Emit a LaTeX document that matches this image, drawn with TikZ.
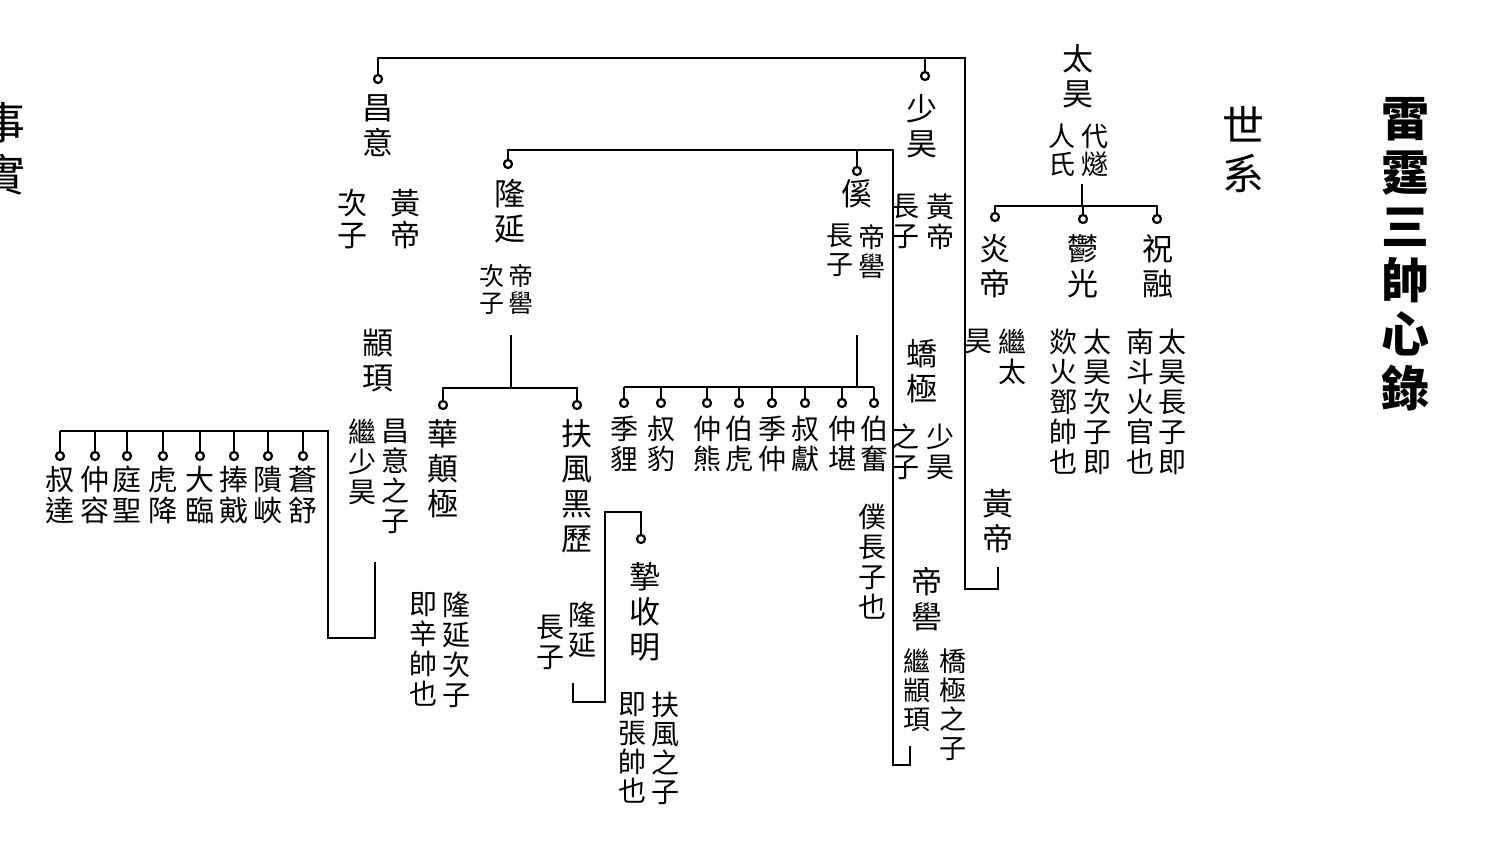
\documentclass[tikz,border=0pt]{standalone}
\usepackage{fontspec}
\setmainfont{Noto Sans CJK TC}
\begin{document}
\begin{tikzpicture}[x=1pt,y=-1pt,
  nm/.style={font=\fontsize{31}{35}\selectfont, align=center, inner sep=0pt, anchor=north},
  nt/.style={font=\fontsize{28}{30}\selectfont, align=center, inner sep=0pt, anchor=north},
  sm/.style={font=\fontsize{25}{27}\selectfont, align=center, inner sep=0pt, anchor=north},
  ttl/.style={font=\bfseries\fontsize{48}{54}\selectfont, align=center, inner sep=0pt, anchor=north},
  hd/.style={font=\fontsize{42}{48}\selectfont, align=center, inner sep=0pt, anchor=north},
  ln/.style={line width=2.6pt, line join=miter},
  tl/.style={line width=1.3pt},
  term/.style={circle, draw, line width=2.2pt, fill=white, inner sep=0pt, minimum size=8pt},
]
\useasboundingbox (0,0) rectangle (1500,851);
\fill[white] (0,0) rectangle (1500,851);

% headings
\node[ttl] (title) at (1405,97) {雷\\霆\\三\\帥\\心\\錄};
\node[hd] (shixi) at (1243,106) {世\\系};
\node[hd, font=\fontsize{44}{52}\selectfont] (shishi) at (4,102) {事\\實};

% Tai Hao branch
\node[nm] (taihao) at (1078,44) {太\\昊};
\node[nt, font=\fontsize{27}{28}\selectfont] (taihaoR) at (1095,124) {代\\燧};
\node[nt, font=\fontsize{27}{28}\selectfont] (taihaoL) at (1062,124) {人\\氏};
\coordinate (thtop) at (1082,184);
\coordinate (thbar) at (1082,206);
\coordinate (thL) at (995,206);
\coordinate (thR) at (1157,206);
\node[term] (t-yd) at (995,217) {};
\node[term] (t-yg) at (1083,219) {};
\node[term] (t-zr) at (1157,219) {};
\draw[tl] (thtop) -- (thbar);
\draw[ln] (t-yd.north) -- (thL) -- (thR) -- (t-zr.north);
\draw[ln] (t-yg.north) -- (1083,206);
\node[nm] (yandi) at (995,234) {炎\\帝};
\node[nm] (yuguang) at (1083,234) {鬱\\光};
\node[nm] (zhurong) at (1158,234) {祝\\融};
\node[nt] (ydR) at (1012,329) {繼\\太};
\node[nt] (ydL) at (978,329) {昊};
\node[nt] (ygR) at (1097,329) {太\\昊\\次\\子\\即};
\node[nt] (ygL) at (1063,329) {欻\\火\\鄧\\帥\\也};
\node[nt] (zrR) at (1172,329) {太\\昊\\長\\子\\即};
\node[nt] (zrL) at (1140,329) {南\\斗\\火\\官\\也};

% Huang Di
\node[nm] (huangdi) at (998,489) {黃\\帝};
\coordinate (hd1) at (998,567);
\coordinate (hd2) at (998,589);
\coordinate (hd3) at (965,589);
\coordinate (hd4) at (965,58);
\coordinate (hd5) at (378,58);
\node[term] (t-cy) at (378,79) {};
\node[term] (t-sh) at (925,76) {};
\draw[ln] (hd1) -- (hd2) -- (hd3) -- (hd4) -- (hd5) -- (t-cy.north);
\draw[ln] (t-sh.north) -- (925,58);

% Shao Hao column
\node[nm] (shaohao) at (922,94) {少\\昊};
\node[nt] (shR) at (940,194) {黃\\帝};
\node[nt] (shL) at (905,194) {長\\子};
\node[nm] (jiaoji) at (922,339) {蟜\\極};
\node[nt] (jjR) at (940,424) {少\\昊};
\node[nt] (jjL) at (905,424) {之\\子};
\node[nm] (diku) at (927,567) {帝\\嚳};
\node[nt, font=\fontsize{27}{29}\selectfont] (dkR) at (953,649) {橋\\極\\之\\子};
\node[nt, font=\fontsize{27}{29}\selectfont] (dkL) at (917,649) {繼\\顓\\頊};
\coordinate (dk1) at (910,746);
\coordinate (dk2) at (910,765);
\coordinate (dk3) at (893,765);
\coordinate (dk4) at (893,150);
\coordinate (dk5) at (508,150);
\node[term] (t-ly) at (508,164) {};
\node[term] (t-xi) at (857,171) {};
\draw[ln, line width=2.2pt] (dk1) -- (dk2) -- (dk3) -- (dk4) -- (dk5) -- (t-ly.north);
\draw[ln, line width=2.2pt] (t-xi.north) -- (857,150);

% Chang Yi
\node[nm] (changyi) at (378,94) {昌\\意};
\node[nt, font=\fontsize{30}{32}\selectfont] (cyR) at (405,189) {黃\\帝};
\node[nt, font=\fontsize{30}{32}\selectfont] (cyL) at (352,189) {次\\子};
\node[nm] (zhuanxu) at (378,329) {顓\\頊};
\node[nt] (zxR) at (395,419) {昌\\意\\之\\子};
\node[nt] (zxL) at (362,419) {繼\\少\\昊};
\coordinate (zx1) at (375,562);
\coordinate (zx2) at (375,638);
\coordinate (zx3) at (328,638);
\coordinate (zx4) at (328,431);
\coordinate (zx5) at (60,431);
\draw[ln, line width=2.2pt] (zx1) -- (zx2) -- (zx3) -- (zx4) -- (zx5);
\foreach \n/\x/\t in {a/60/{叔\\達}, b/95/{仲\\容}, c/127/{庭\\聖}, d/163/{虎\\降}, e/200/{大\\臨}, f/234/{捧\\戭}, g/268/{隤\\峽}, h/303/{蒼\\舒}} {
  \node[term] (t8-\n) at (\x,456) {};
  \draw[ln, line width=2.2pt] (t8-\n.north) -- (\x,431);
  \node[nt, font=\fontsize{29}{31}\selectfont] (k8-\n) at (\x,466) {\t};
}

% Long Yan
\node[nm] (longyan) at (510,179) {隆\\延};
\node[sm] (lyR) at (521,264) {帝\\嚳};
\node[sm] (lyL) at (492,264) {次\\子};
\coordinate (ly1) at (511,335);
\coordinate (ly2) at (511,388);
\coordinate (lyL1) at (443,388);
\coordinate (lyR1) at (577,388);
\node[term] (t-hd) at (443,405) {};
\node[term] (t-ff) at (577,405) {};
\draw[tl, line width=1.6pt] (ly1) -- (ly2);
\draw[ln, line width=2.2pt] (t-hd.north) -- (lyL1) -- (lyR1) -- (t-ff.north);
\node[nm] (huadian) at (443,419) {華\\顛\\極};
\node[nm] (fufeng) at (577,419) {扶\\風\\黑\\歷};
\node[nt] (hdR) at (456,592) {隆\\延\\次\\子};
\node[nt] (hdL) at (423,592) {即\\辛\\帥\\也};
\node[nt] (ffR) at (582,602) {隆\\延};
\node[nt] (ffL) at (550,615) {長\\子};
\coordinate (ff1) at (573,683);
\coordinate (ff2) at (573,702);
\coordinate (ff3) at (605,702);
\coordinate (ff4) at (605,512);
\coordinate (ff5) at (641,512);
\node[term] (t-zs) at (641,539) {};
\draw[ln, line width=2.2pt] (ff1) -- (ff2) -- (ff3) -- (ff4) -- (ff5) -- (t-zs.north);
\node[nm] (zhishou) at (645,562) {摯\\收\\明};
\node[nt, font=\fontsize{28}{29}\selectfont] (zsR) at (665,692) {扶\\風\\之\\子};
\node[nt, font=\fontsize{28}{29}\selectfont] (zsL) at (632,692) {即\\張\\帥\\也};

% Xi
\node[nm] (xi) at (857,179) {傒};
\node[sm, font=\fontsize{27}{29}\selectfont] (xiR) at (872,224) {帝\\嚳};
\node[sm, font=\fontsize{27}{29}\selectfont] (xiL) at (840,224) {長\\子};
\coordinate (xi1) at (857,335);
\coordinate (xi2) at (857,387);
\draw[tl, line width=1.6pt] (xi1) -- (xi2);
\draw[ln, line width=2.2pt] (624,387) -- (874,387);
\foreach \n/\x/\t in {a/624/{季\\貍}, b/661/{叔\\豹}, c/707/{仲\\熊}, d/739/{伯\\虎}, e/772/{季\\仲}, f/805/{叔\\獻}, g/842/{仲\\堪}, h/874/{伯\\奮}} {
  \node[term] (t16-\n) at (\x,403) {};
  \draw[ln, line width=2.2pt] (t16-\n.north) -- (\x,387);
  \node[nt, font=\fontsize{28}{30}\selectfont] (k16-\n) at (\x,416) {\t};
}
\node[nt] (bfnote) at (872,504) {僕\\長\\子\\也};

\end{tikzpicture}
\end{document}
